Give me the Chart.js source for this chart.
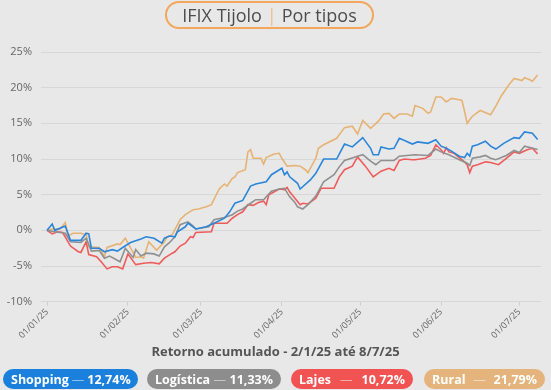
<!DOCTYPE html>
<html>
<head>
<meta charset="utf-8">
<script src="https://cdn.jsdelivr.net/npm/chart.js@4.4.0/dist/chart.umd.min.js"></script>
<style>
  html, body { margin: 0; padding: 0; background: #e8e8e8; }
  body { width: 551px; height: 390px; position: relative; overflow: hidden; font-family: "Open Sans", "Noto Sans", sans-serif; }
  #wrap { position: absolute; left: 0; top: 0; width: 551px; height: 390px; }
  .title {
    position: absolute; left: 165px; top: 1px; width: 205px; height: 24px;
    border: 2px solid #f2a75c; border-radius: 14px;
    color: #4d4d4d; font-size: 18px; line-height: 24px; text-align: center;
  }
  .title .sep { color: #f2a75c; font-weight: 300; margin: 0 5px; }
  .subtitle {
    position: absolute; left: 0; width: 551px; top: 342px; text-align: center;
    color: #555; font-size: 13px; font-weight: bold;
  }
  .pill {
    position: absolute; top: 369px; height: 20px; border-radius: 10px;
    display: flex; align-items: center; justify-content: space-between;
    padding: 0 8px; box-sizing: border-box;
    color: #fff; font-size: 12.5px; font-weight: bold;
  }
  .pill .dash { color: rgba(255,255,255,0.55); font-weight: normal; margin: 0 3px; }
</style>
</head>
<body>
<div id="wrap"><canvas id="chart" width="551" height="390"></canvas></div>
<div class="title">IFIX Tijolo<span class="sep">|</span>Por tipos</div>
<div class="subtitle">Retorno acumulado - 2/1/25 até 8/7/25</div>
<div id="legend"></div>
<script>
// days counted from 01/01/25, values in % accumulated return
const shoppingDays = [0,2,3,7,9,13,15,16,17,20,22,25,27,29,32,36,38,41,44,45,47,49,50,53,54,57,61,64,68,70,72,75,78,80,84,86,90,91,92,93,96,97,101,103,106,111,114,117,121,124,125,127,128,131,133,135,137,140,142,144,146,149,151,153,155,158,160,161,162,163,165,168,170,172,175,179,181,183,186,188];
const shoppingValues = [0,0.9,0,0.6,-1.4,-1.4,-0.4,-0.5,-2.5,-2.5,-3.0,-2.7,-2.9,-2.4,-1.7,-1.2,-0.9,-1.1,-1.8,-1.1,-0.8,-0.9,-0.2,0.5,1.0,0.2,0.5,1.0,1.7,2.6,3.8,4.2,6.2,6.5,6.8,7.8,8.7,7.8,8.2,7.5,6.6,5.8,7.1,8.0,10.0,10.0,12.1,11.7,13.0,11.5,10.6,10.6,11.7,11.4,11.5,12.9,12.6,12.1,12.4,12.3,12.2,12.7,11.8,11.5,11.1,10.4,10.2,10.8,10.4,11.8,12.0,12.5,11.8,11.4,12.2,13.0,12.9,13.8,13.6,12.74];

const logisticaDays = [0,3,7,9,13,15,17,20,22,24,28,30,33,34,36,38,41,43,45,47,49,51,54,56,57,62,64,68,71,73,75,78,80,83,86,89,91,93,95,96,98,100,103,106,110,112,114,119,121,124,126,128,133,135,141,146,149,151,154,158,161,162,163,166,168,170,172,176,179,181,183,188];
const logisticaValues = [0,-0.2,-0.4,-1.6,-1.7,-1.1,-2.9,-2.8,-3.9,-3.6,-4.4,-2.5,-3.8,-2.7,-3.6,-3.2,-3.3,-3.6,-2.3,-1.7,-0.9,0.8,1.2,0.6,0.2,0.5,1.5,1.8,2.2,2.7,3.0,3.8,4.3,4.3,5.5,5.8,5.9,4.7,3.9,3.3,3.0,3.6,4.8,6.8,7.8,8.9,9.8,10.4,10.6,9.7,9.2,9.8,9.8,10.4,10.6,10.5,11.4,11.0,10.6,9.9,9.4,9.1,10.1,10.3,10.5,10.1,9.9,10.5,11.2,10.9,11.8,11.33];

const lajesDays = [0,2,4,6,9,12,13,15,16,19,21,23,25,27,29,31,34,37,40,43,45,48,49,51,53,55,56,57,63,64,69,71,73,75,77,79,81,83,84,85,89,91,92,93,95,97,98,100,103,105,110,112,114,117,119,122,125,128,131,133,135,137,140,141,145,147,149,151,152,153,154,156,160,161,162,163,165,168,170,173,176,179,181,184,186,188];
const lajesValues = [0,-0.5,-0.2,-0.3,-2.2,-3.0,-3.1,-1.6,-3.4,-3.7,-4.5,-5.4,-5.1,-5.1,-5.4,-3.3,-4.8,-4.6,-4.5,-4.7,-3.9,-3.2,-3.0,-2.2,-1.8,-0.9,-1.0,-0.3,-0.2,1.0,1.0,1.7,2.2,2.6,3.6,3.5,3.9,4.1,3.6,5.0,5.8,5.7,6.0,5.4,4.5,3.6,3.8,3.7,4.5,5.9,5.9,7.5,8.5,9.0,10.3,9.0,7.5,8.3,8.7,8.4,9.8,10.0,9.9,9.9,10.1,10.5,12.0,11.3,10.8,11.6,11.0,10.8,9.6,9.2,8.1,9.0,9.2,9.6,9.5,9.2,10.1,11.0,10.8,11.3,11.5,10.72];

const ruralDays = [0,2,5,7,8,10,13,15,16,20,22,23,27,28,30,34,36,37,39,42,45,46,48,49,51,53,56,58,61,63,66,68,69,71,72,73,76,77,78,79,82,83,84,87,89,90,92,95,97,99,100,103,104,106,111,114,117,119,121,124,127,129,131,133,135,138,140,141,144,146,147,149,151,153,155,158,159,160,161,163,166,170,172,174,177,179,182,183,185,186,188];
const ruralValues = [0,0.2,0.2,1.1,-0.8,-0.4,-0.4,-0.6,-2.3,-2.4,-3.7,-2.4,-1.9,-2.0,-1.1,-3.8,-3.7,-3.9,-1.6,-2.8,-1.6,-0.9,-0.6,0.1,1.5,2.2,2.9,3.0,3.3,3.6,5.8,6.5,6.2,7.3,7.5,8.1,8.5,11.0,11.3,10.1,10.1,9.3,10.2,10.7,10.8,10.1,9.0,9.1,9.0,8.5,8.1,10.1,11.5,12.0,12.9,14.4,14.6,13.5,15.4,14.3,15.3,16.3,16.4,15.7,16.3,16.3,16.0,17.5,17.1,16.4,16.6,18.7,18.7,18.0,18.5,18.3,18.2,16.7,15.0,16.0,16.8,16.2,17.4,18.8,20.4,21.3,21.0,21.4,21.1,20.9,21.79];

const tickDays = [0, 31, 59, 90, 120, 151, 181];
const tickLabels = ['01/01/25', '01/02/25', '01/03/25', '01/04/25', '01/05/25', '01/06/25', '01/07/25'];
const yTicks = [-10, -5, 0, 5, 10, 15, 20, 25];

const seriesNames = ['Shopping', 'Logística', 'Lajes', 'Rural'];
const seriesTotals = ['12,74%', '11,33%', '10,72%', '21,79%'];

const lineColors = ['#2b86d9', '#909090', '#ef5b5b', '#e6b374'];
const pillColors = ['#1b80dc', '#8d8d8d', '#f15252', '#e5b47c'];
const pillBoxes = [[3, 135], [147, 134], [291, 122], [424, 121]];

function toPoints(days, values) {
    return days.map((d, i) => ({ x: d, y: values[i] }));
}

const allDays = [shoppingDays, logisticaDays, lajesDays, ruralDays];
const allValues = [shoppingValues, logisticaValues, lajesValues, ruralValues];

const datasets = seriesNames.map((name, i) => ({
    label: name,
    data: toPoints(allDays[i], allValues[i]),
    borderColor: lineColors[i],
    borderWidth: 1.6,
    pointRadius: 0,
    tension: 0,
    fill: false
}));

// legend pills
const legend = document.getElementById('legend');
seriesNames.forEach((name, i) => {
    const pill = document.createElement('div');
    pill.className = 'pill';
    pill.style.left = pillBoxes[i][0] + 'px';
    pill.style.width = pillBoxes[i][1] + 'px';
    pill.style.background = pillColors[i];
    pill.innerHTML = '<span>' + name + '</span><span class="dash">—</span><span>' + seriesTotals[i] + '</span>';
    legend.appendChild(pill);
});

new Chart(document.getElementById('chart'), {
    type: 'line',
    data: { datasets: datasets },
    options: {
        responsive: false,
        animation: false,
        layout: { padding: { top: 52, right: 10, left: 0, bottom: 0 } },
        plugins: { legend: { display: false }, tooltip: { enabled: false } },
        scales: {
            x: {
                type: 'linear',
                min: -2.3,
                max: 189.3,
                afterBuildTicks: (scale) => {
                    scale.ticks = tickDays.map(v => ({ value: v }));
                },
                afterFit: (scale) => { scale.height = 88.3; },
                ticks: {
                    autoSkip: false,
                    minRotation: 45,
                    maxRotation: 45,
                    padding: 1,
                    color: '#666',
                    font: { family: 'Open Sans', size: 9 },
                    callback: (v) => tickLabels[tickDays.indexOf(v)]
                },
                grid: { drawOnChartArea: false, drawTicks: true, tickLength: 4, color: '#cfcfcf' },
                border: { display: false }
            },
            y: {
                min: -10,
                max: 25,
                afterBuildTicks: (scale) => {
                    scale.ticks = yTicks.map(v => ({ value: v }));
                },
                afterFit: (scale) => { scale.width = 41; },
                ticks: {
                    padding: 9,
                    color: '#666',
                    font: { family: 'Open Sans', size: 11 },
                    callback: (v) => v + '%'
                },
                grid: { color: '#d7d7d7', drawTicks: false, lineWidth: 1 },
                border: { display: false }
            }
        }
    }
});
</script>
</body>
</html>
